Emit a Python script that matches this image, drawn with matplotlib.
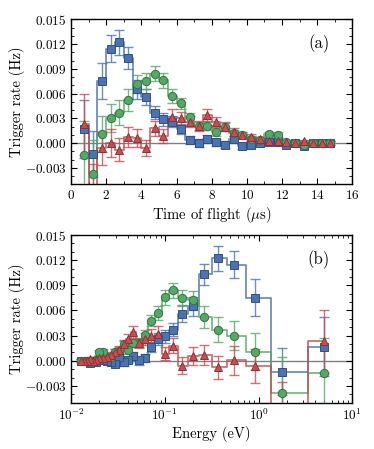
import matplotlib
matplotlib.use("Agg")
import matplotlib.pyplot as plt
from matplotlib.ticker import MultipleLocator, FuncFormatter, LogLocator

plt.rcParams["font.family"] = "serif"
plt.rcParams["font.serif"] = ["cmr10", "DejaVu Serif"]
plt.rcParams["mathtext.fontset"] = "cm"
plt.rcParams["axes.formatter.use_mathtext"] = True
plt.rcParams["font.size"] = 9.5

# time of flight bin centres (us) and the matching energies (eV)
tof = [0.75, 1.25, 1.75, 2.25, 2.75, 3.25, 3.75, 4.25, 4.75, 5.25,
       5.75, 6.25, 6.75, 7.25, 7.75, 8.25, 8.75, 9.25, 9.75, 10.25,
       10.75, 11.25, 11.75, 12.25, 12.75, 13.25, 13.75, 14.25, 14.75]
energy = [4.94, 1.78, 0.908, 0.549, 0.368, 0.263, 0.198, 0.154, 0.123, 0.101,
          0.0841, 0.0712, 0.0610, 0.0529, 0.0463, 0.0408, 0.0363, 0.0325, 0.0292, 0.0265,
          0.0241, 0.0220, 0.0201, 0.0185, 0.0171, 0.0158, 0.0147, 0.0137, 0.0128]

blue = [0.0017, -0.0013, 0.0075, 0.01145, 0.0122, 0.0103, 0.0065, 0.0056, 0.0037, 0.0029,
        0.0026, 0.00165, 0.00036, 0.00005, 0.00053, 0.0001, -0.0002, 0.00045, -0.00036, -0.0002,
        0.0, 0.0001, 0.0001, -0.0002, 0.0, -0.0003, 0.0, 0.0, 0.0]
blue_err = [0.0035, 0.0028, 0.0022, 0.0016, 0.0015, 0.0013, 0.0011, 0.0010, 0.0008, 0.0008,
            0.0007, 0.0006, 0.0005, 0.0005, 0.0005, 0.0004, 0.0004, 0.0004, 0.0003, 0.0003,
            0.0003, 0.0003, 0.0003, 0.0002, 0.0002, 0.0002, 0.0002, 0.0002, 0.0002]

green = [-0.0015, -0.0038, 0.0011, 0.0030, 0.0037, 0.0052, 0.0072, 0.0075, 0.0084, 0.0076,
         0.0057, 0.0048, 0.0031, 0.0021, 0.0021, 0.0013, 0.0020, 0.0012, 0.0010, 0.0005,
         0.0004, 0.0011, 0.0010, 0.0001, 0.0, -0.0002, 0.0, 0.0, 0.0]
green_err = [0.0042, 0.0042, 0.0022, 0.0017, 0.0015, 0.0013, 0.0011, 0.0010, 0.0009, 0.0009,
             0.0008, 0.0007, 0.0006, 0.0005, 0.0005, 0.0005, 0.0004, 0.0004, 0.0004, 0.0003,
             0.0003, 0.0003, 0.0003, 0.0002, 0.0002, 0.0002, 0.0002, 0.0002, 0.0002]

red = [0.0023, -0.0065, -0.0006, 0.00005, -0.0008, 0.0007, 0.0006, -0.0006, 0.0018, 0.00085,
       0.0032, 0.0030, 0.0026, 0.0021, 0.0034, 0.0026, 0.0020, 0.0013, 0.0010, 0.0007,
       0.00045, 0.0003, 0.0003, 0.0001, 0.0, 0.0002, 0.0, 0.0, 0.0]
red_err = [0.0037, 0.0040, 0.0020, 0.0017, 0.0014, 0.0012, 0.0011, 0.0010, 0.0009, 0.0008,
           0.0009, 0.0008, 0.0007, 0.0006, 0.0007, 0.0006, 0.0005, 0.0005, 0.0004, 0.0004,
           0.0003, 0.0003, 0.0003, 0.0003, 0.0002, 0.0002, 0.0002, 0.0002, 0.0002]

series = [
    (blue, blue_err, "#4C72B0", "#34507f", "s"),
    (green, green_err, "#55A868", "#3a7048", "o"),
    (red, red_err, "#C44E52", "#8a3336", "^"),
]


def fmt_y(v, pos):
    if abs(v) < 1e-9:
        v = 0.0
    return "$%.3f$" % v


def draw(ax, x):
    ax.axhline(0, color="gray", lw=1.0, zorder=1)
    for y, err, col, edge, mk in series:
        ax.plot(x, y, drawstyle="steps-mid", color=col, alpha=0.8, lw=1.3, zorder=2)
        ax.errorbar(x, y, yerr=err, fmt="none", ecolor=col, alpha=0.8,
                    elinewidth=1.0, capsize=3.5, capthick=1.0, zorder=3)
        ax.plot(x, y, ls="none", marker=mk, ms=6, mfc=col, mec=edge, mew=0.7, zorder=4)
    ax.set_ylim(-0.005, 0.015)
    ax.yaxis.set_major_locator(MultipleLocator(0.003))
    ax.yaxis.set_minor_locator(MultipleLocator(0.001))
    ax.yaxis.set_major_formatter(FuncFormatter(fmt_y))
    ax.set_ylabel("Trigger rate (Hz)", fontsize=10.5)
    ax.yaxis.set_label_coords(-0.162, 0.5)
    ax.tick_params(which="both", direction="in", top=True, right=True, labelsize=9.5)
    ax.tick_params(which="major", length=4, width=0.8)
    ax.tick_params(which="minor", length=2, width=0.6)
    for s in ax.spines.values():
        s.set_linewidth(1.0)


fig = plt.figure(figsize=(3.74, 4.49), dpi=100)
ax1 = fig.add_axes([0.19, 0.5895, 0.752, 0.3675])
ax2 = fig.add_axes([0.19, 0.1031, 0.752, 0.3735])

draw(ax1, tof)
ax1.set_xlim(0, 16)
ax1.xaxis.set_major_locator(MultipleLocator(2))
ax1.xaxis.set_minor_locator(MultipleLocator(1))
ax1.xaxis.set_major_formatter(FuncFormatter(lambda v, p: "$%d$" % v))
ax1.set_xlabel(r"Time of flight ($\mu$s)", fontsize=10.5, labelpad=2)
ax1.text(0.88, 0.855, "(a)", transform=ax1.transAxes, fontsize=12, ha="center", va="center")

draw(ax2, energy)
ax2.set_xscale("log")
ax2.set_xlim(0.01, 10)
ax2.xaxis.set_minor_locator(LogLocator(base=10, subs=range(2, 10)))
ax2.set_xlabel("Energy (eV)", fontsize=10.5, labelpad=2)
ax2.text(0.88, 0.855, "(b)", transform=ax2.transAxes, fontsize=12, ha="center", va="center")

fig.savefig("out.png", dpi=100)
